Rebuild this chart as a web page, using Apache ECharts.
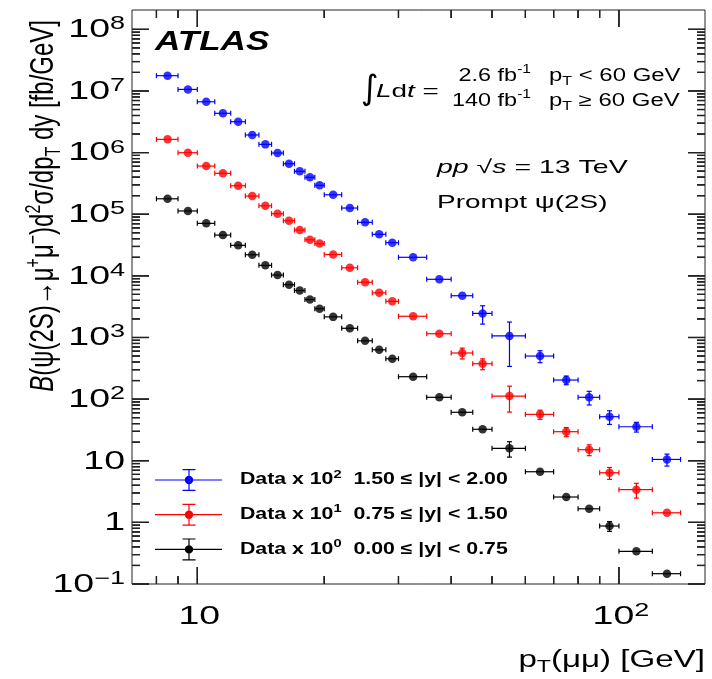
<!DOCTYPE html>
<html><head><meta charset="utf-8">
<script src="https://cdn.jsdelivr.net/npm/echarts@6/dist/echarts.min.js"></script>
<style>html,body{margin:0;padding:0;background:#fff}#c{width:712px;height:679px}</style>
</head><body><div id="c"></div>
<script>
// ---- data ----
const ptLow    = [8,9,10,11,12,13,14,15,16,17,18,19,20,22,24,26,28,30,35,40,45,50,60,70,80,90,100,120];
const ptHigh   = [9,10,11,12,13,14,15,16,17,18,19,20,22,24,26,28,30,35,40,45,50,60,70,80,90,100,120,140];
const ptCenter = [8.5,9.5,10.5,11.5,12.5,13.5,14.5,15.5,16.5,17.5,18.5,19.5,21,23,25,27,29,32.5,37.5,42.5,47.5,55,65,75,85,95,110,130];

// plotted values (already multiplied by the legend factor)
const blueVals  = [1.77e7,1.06e7,6.68e6,4.34e6,3.17e6,1.93e6,1.36e6,9.84e5,6.60e5,4.97e5,3.97e5,2.94e5,2.07e5,1.26e5,7.38e4,4.72e4,3.45e4,2.00e4,8.79e3,4.76e3,2.46e3,1.06e3,500,204,107,51.8,35.6,10.5];
const redVals   = [1.64e6,9.95e5,6.05e5,4.61e5,2.90e5,1.97e5,1.37e5,1.02e5,7.84e4,5.54e4,3.85e4,3.34e4,2.22e4,1.35e4,7.87e3,5.30e3,3.86e3,2.21e3,1.15e3,560,375,112,56.6,29.6,15.1,6.38,3.39,1.43];
const blackVals = [1.78e5,1.13e5,7.11e4,4.59e4,3.13e4,2.20e4,1.48e4,1.03e4,7.18e3,5.78e3,4.13e3,2.93e3,2.16e3,1.41e3,883,631,452,231,107,61.1,32.4,15.9,6.63,2.58,1.66,0.873,0.339,0.147];

// relative vertical uncertainties
const blueErr  = [0.03,0.03,0.03,0.03,0.03,0.03,0.03,0.03,0.03,0.03,0.03,0.03,0.04,0.05,0.05,0.06,0.07,0.12,0.10,0.15,0.33,0.68,0.22,0.16,0.25,0.25,0.18,0.22];
const redErr   = [0.03,0.03,0.03,0.03,0.03,0.03,0.03,0.03,0.03,0.03,0.03,0.03,0.04,0.05,0.05,0.06,0.07,0.08,0.06,0.20,0.20,0.45,0.17,0.17,0.20,0.22,0.27,0.10];
const blackErr = [0.03,0.03,0.03,0.03,0.03,0.03,0.03,0.03,0.03,0.03,0.03,0.03,0.04,0.04,0.05,0.05,0.05,0.06,0.06,0.08,0.10,0.28,0.06,0.07,0.15,0.18,0.10,0.12];

const seriesNames = ['Data x 10^2  1.50 ≤ |y| < 2.00', 'Data x 10^1  0.75 ≤ |y| < 1.50', 'Data x 10^0  0.00 ≤ |y| < 0.75'];
const legendLabels = [
  '{b|Data x 10}{bs|2}{b|  1.50 ≤ |y| < 2.00}',
  '{b|Data x 10}{bs|1}{b|  0.75 ≤ |y| < 1.50}',
  '{b|Data x 10}{bs|0}{b|  0.00 ≤ |y| < 0.75}'
];
const seriesColors = ['#0000ff', '#ff0000', '#000000'];

// axis ranges, ticks and tick labels
const X_MIN = 7, X_MAX = 160;
const Y_MIN = 0.1, Y_MAX = 2.06e8;
const xMajorTicks = [10, 100];
const xMinorTicks = [8, 9, 20, 30, 40, 50, 60, 70, 80, 90];
const xTickLabels = ['{n|10}', '{n|10}{s|2}'];
const yMajorTicks = [0.1, 1, 10, 1e2, 1e3, 1e4, 1e5, 1e6, 1e7, 1e8];
const yMinorMantissa = [2, 3, 4, 5, 6, 7, 8, 9];
const yTickLabels = ['{n|10}{s|−1}','{n|1}','{n|10}','{n|10}{s|2}','{n|10}{s|3}','{n|10}{s|4}','{n|10}{s|5}','{n|10}{s|6}','{n|10}{s|7}','{n|10}{s|8}'];

// ---- build ----
const FONT = '"Liberation Sans", Arial, sans-serif';
const valsList = [blueVals, redVals, blackVals];
const errList  = [blueErr, redErr, blackErr];

const tickItems = [];
xMajorTicks.forEach((v, k) => tickItems.push({axis:'x', v, major:true, label: xTickLabels[k]}));
xMinorTicks.forEach(v => tickItems.push({axis:'x', v, major:false}));
yMajorTicks.forEach((v, k) => tickItems.push({axis:'y', v, major:true, label: yTickLabels[k]}));
yMajorTicks.forEach(v => { if (v < 1e8) yMinorMantissa.forEach(m => tickItems.push({axis:'y', v: m*v, major:false})); });
const labelItems = tickItems.filter(t => t.label);

const SXL = 1.5; // horizontal stretch of the reference lettering
const labelRich = {
  n: {fontSize: 25, fontFamily: FONT, fill:'#000', lineHeight: 30},
  s: {fontSize: 18, fontFamily: FONT, fill:'#000', verticalAlign:'top', lineHeight: 18}
};
const TICK_COLOR = '#222';

// tick segments (in pixels) for one tick item, from a data->pixel converter
function tickSegments(t, toPx) {
  const len = t.major ? 17 : 8;
  if (t.axis === 'x') {
    const b = toPx([t.v, Y_MIN]), tp = toPx([t.v, Y_MAX]);
    return [[b[0], b[1], b[0], b[1] - len], [tp[0], tp[1], tp[0], tp[1] + len]];
  }
  const l = toPx([X_MIN, t.v]), r = toPx([X_MAX, t.v]);
  return [[l[0], l[1], l[0] + len, l[1]], [r[0], r[1], r[0] - len, r[1]]];
}
const segLine = s => ({type:'line', shape:{x1:s[0], y1:s[1], x2:s[2], y2:s[3]}, style:{stroke:TICK_COLOR, lineWidth:1.2}});

function labelRender(params, api) {
  const t = labelItems[params.dataIndex];
  if (t.axis === 'x') {
    const b = api.coord([t.v, Y_MIN]);
    return {type:'text', x:b[0]+2, y:b[1]+33, scaleX:SXL,
      style:{text:t.label, rich:labelRich, x:0, y:0, textAlign:'center', align:'center', textVerticalAlign:'middle', verticalAlign:'middle'}};
  }
  const l = api.coord([X_MIN, t.v]);
  return {type:'text', x:l[0]-7, y:l[1]+1, scaleX:SXL,
    style:{text:t.label, rich:labelRich, x:0, y:0, textAlign:'right', align:'right', textVerticalAlign:'middle', verticalAlign:'middle'}};
}

function tickRender(params, api) {
  const t = tickItems[params.dataIndex];
  return {type:'group', children: tickSegments(t, p => api.coord(p)).map(segLine)};
}

function errRender(color, withTicks) {
  return function (params, api) {
    const xc = api.value(0), y = api.value(1), xl = api.value(2), xh = api.value(3), yl = api.value(4), yh = api.value(5);
    const pc = api.coord([xc, y]), pl = api.coord([xl, y]), ph = api.coord([xh, y]);
    const plo = api.coord([xc, yl]), phi = api.coord([xc, yh]);
    const st = {stroke: color, lineWidth: 1.2};
    const ch = [
      {type:'line', shape:{x1:pl[0], y1:pc[1], x2:ph[0], y2:pc[1]}, style:st},
      {type:'line', shape:{x1:pl[0], y1:pc[1]-2.5, x2:pl[0], y2:pc[1]+2.5}, style:st},
      {type:'line', shape:{x1:ph[0], y1:pc[1]-2.5, x2:ph[0], y2:pc[1]+2.5}, style:st}
    ];
    if (plo[1] - pc[1] > 4.5 || pc[1] - phi[1] > 4.5) {
      ch.push({type:'line', shape:{x1:pc[0], y1:phi[1], x2:pc[0], y2:plo[1]}, style:st});
      ch.push({type:'line', shape:{x1:pc[0]-2.5, y1:phi[1], x2:pc[0]+2.5, y2:phi[1]}, style:st});
      ch.push({type:'line', shape:{x1:pc[0]-2.5, y1:plo[1], x2:pc[0]+2.5, y2:plo[1]}, style:st});
    }
    // the frame ticks ride along with the first black item
    if (withTicks && params.dataIndex === 0) {
      tickItems.forEach(t => tickSegments(t, p => api.coord(p)).forEach(s => ch.push(segLine(s))));
    }
    return {type:'group', children: ch};
  };
}

const series = [{
  type:'custom', name:'tick labels', silent:true,
  data: labelItems.map(t => t.axis === 'x' ? [t.v, 1] : [10, t.v]),
  renderItem: labelRender
}, {
  type:'custom', name:'frame ticks', silent:true, z:3,
  itemStyle:{color: TICK_COLOR},
  data: tickItems.map(t => t.axis === 'x' ? [t.v, 1, t.v, t.v, 1, 1] : [10, t.v, 10, 10, t.v, t.v]),
  renderItem: tickRender
}];
valsList.forEach((vals, s) => {
  series.push({
    type:'custom', name: seriesNames[s], silent:true, z:3,
    itemStyle:{color: seriesColors[s]},
    data: vals.map((v, i) => [ptCenter[i], v, ptLow[i], ptHigh[i], v*(1-errList[s][i]), v*(1+errList[s][i])]),
    renderItem: errRender(seriesColors[s], s === 2)
  });
  series.push({
    type:'scatter', name: seriesNames[s], z:4, silent:true,
    symbol:'circle', symbolSize:8.5,
    itemStyle:{color: seriesColors[s]},
    data: vals.map((v, i) => [ptCenter[i], v])
  });
});

const legendIcon = 'path://M0,10.4h67v1.2h-67z M33.4,0h1.2v22h-1.2z M27.5,0h13v1.2h-13z M27.5,20.8h13v1.2h-13z M38.2,11a4.2,4.2 0 1,1 -8.4,0a4.2,4.2 0 1,1 8.4,0z';

const T = (x, y, text, style, el) => Object.assign({type:'text', x, y, silent:true,
  style: Object.assign({text, x:0, y:0, fill:'#000', font: '18px ' + FONT, verticalAlign:'middle', textVerticalAlign:'middle', textAlign:'left'}, style || {})},
  el || {});

const mkRich = (fs, ss) => ({
  n: {fontSize: fs, fontFamily: FONT, lineHeight: fs + 6},
  i: {fontSize: fs, fontFamily: FONT, fontStyle:'italic', lineHeight: fs + 6},
  b: {fontSize: fs, fontFamily: FONT, fontWeight:'bold', lineHeight: fs + 6},
  bs: {fontSize: ss, fontFamily: FONT, fontWeight:'bold', verticalAlign:'top', lineHeight: ss},
  sup: {fontSize: ss, fontFamily: FONT, verticalAlign:'top', lineHeight: ss},
  sub: {fontSize: ss, fontFamily: FONT, verticalAlign:'bottom', lineHeight: ss}
});
const rich18 = mkRich(18, 12), rich19 = mkRich(19, 13), rich23 = mkRich(23, 16), rich24 = mkRich(24, 16), rich16 = mkRich(16, 11);

const legendTexts = legendLabels.map((lab, k) => T(240, 480 + k*34.7, lab, {rich: rich16}, {scaleX: 1.33}));

const baseGraphics = [
  T(155, 43, 'ATLAS', {font:'italic bold 27px ' + FONT}, {scaleX:1.3}),
  T(361, 90, '∫', {font:'34px "DejaVu Sans"'}),
  T(376, 92, '{i|L}{n|d}{i|t}{n| =}', {rich:rich18}, {scaleX:1.55}),
  T(531, 76, '{n|2.6 fb}{sup|-1}', {rich:rich18, textAlign:'right'}, {scaleX:1.3}),
  T(531, 101, '{n|140 fb}{sup|-1}', {rich:rich18, textAlign:'right'}, {scaleX:1.3}),
  T(549, 76, '{n|p}{sub|T}{n| < 60 GeV}', {rich:rich18}, {scaleX:1.33}),
  T(549, 101, '{n|p}{sub|T}{n| ≥ 60 GeV}', {rich:rich18}, {scaleX:1.33}),
  T(437, 168, '{i|pp}{n| √}{i|s}{n| = 13 TeV}', {rich:rich19}, {scaleX:1.5}),
  T(437, 203, '{n|Prompt ψ(2S)}', {rich:rich19}, {scaleX:1.47}),
  T(705, 661, '{n|p}{sub|T}{n|(μμ) [GeV]}', {rich:rich23, textAlign:'right'}, {scaleX:1.44}),
  T(44, 20, '{i|B}{n|(ψ(2S)→μ}{sup|+}{n|μ}{sup|−}{n|)d}{sup|2}{n|σ/dp}{sub|T}{n| dy [fb/GeV]}',
    {rich:rich24, textAlign:'right'}, {rotation:Math.PI/2, scaleY:1.4})
].concat(legendTexts);

const option = {
  backgroundColor:'#fff',
  animation:false,
  grid:{left:132, right:7, top:10, bottom:95, show:true, borderColor:'#222', borderWidth:1},
  xAxis:{type:'log', logBase:10, min:X_MIN, max:X_MAX,
    axisLine:{show:false}, axisTick:{show:false}, splitLine:{show:false}, minorTick:{show:false}, axisLabel:{show:false}},
  yAxis:{type:'log', logBase:10, min:Y_MIN, max:Y_MAX,
    axisLine:{show:false}, axisTick:{show:false}, splitLine:{show:false}, minorTick:{show:false}, axisLabel:{show:false}},
  legend:{
    show:true, orient:'vertical', left:155, top:469, padding:0, itemGap:12.7,
    itemWidth:67, itemHeight:22, selectedMode:false,
    data: seriesNames.map(n => ({name:n, icon:legendIcon})),
    formatter: () => '',
    textStyle:{fontSize:1}
  },
  graphic: baseGraphics,
  series
};
const chart = echarts.init(document.getElementById('c'), null, {renderer:'canvas'});
chart.setOption(option);
// also place the frame ticks as graphic lines, through the axes' own scales
try {
  const toPx = p => chart.convertToPixel({gridIndex:0}, p);
  const tickGraphics = [];
  tickItems.forEach(t => tickSegments(t, toPx).forEach(s => tickGraphics.push(segLine(s))));
  chart.setOption({graphic: baseGraphics.concat(tickGraphics)});
} catch (e) { /* keep the chart as drawn */ }
</script></body></html>
